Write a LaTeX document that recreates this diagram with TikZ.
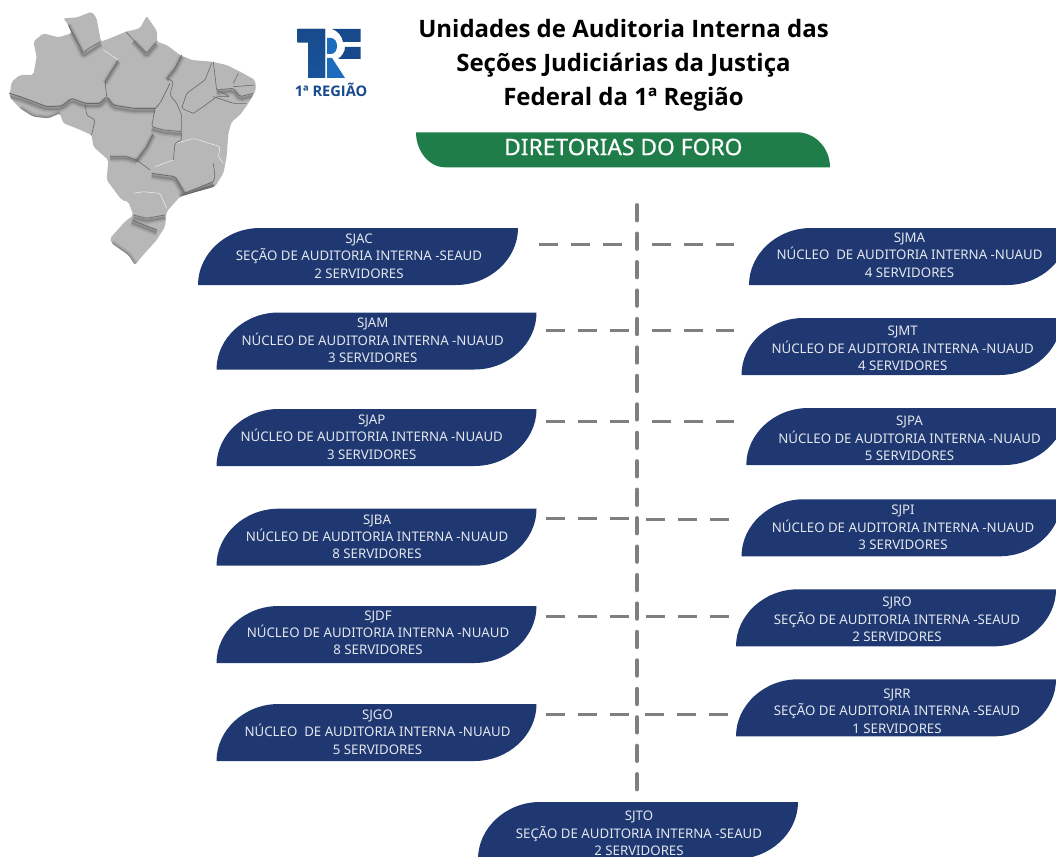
\documentclass[tikz,border=0pt]{standalone}
\usepackage{fontspec}
\setmainfont{Noto Sans}
\newfontfamily\titlefont{Open Sans}
\usetikzlibrary{calc}
\definecolor{navy}{HTML}{1F3871}
\definecolor{paneltxt}{HTML}{E4E7EE}
\definecolor{bannergreen}{HTML}{1F7D49}
\definecolor{dashgray}{HTML}{7F7F7F}
\definecolor{mapgray}{HTML}{B7B7B7}
\definecolor{mapdark}{HTML}{686868}
\definecolor{logodark}{HTML}{174A8C}
\definecolor{logomid}{HTML}{1E6CBE}
\tikzset{
  panelbox/.style={minimum width=320pt,minimum height=57pt,inner sep=0pt,outer sep=0pt},
  paneltext/.style={text=paneltxt,align=center,inner sep=0pt,font=\fontsize{13.25}{17.3}\selectfont},
  hdash/.style={draw=dashgray,line width=2.8pt,dash pattern=on 19pt off 13pt},
  vdash/.style={draw=dashgray,line width=3.8pt,line cap=round,dash pattern=on 15.5pt off 12.95pt},
  titletext/.style={inner sep=0pt,text=black,font=\titlefont\bfseries\fontsize{24}{34}\selectfont,align=center},
  bannertext/.style={inner sep=0pt,text=white,font=\addfontfeature{FakeBold=0.4}\fontsize{22.8}{26}\selectfont},
  logotext/.style={inner sep=0pt,text=logodark,font=\titlefont\bfseries\fontsize{14.6}{16}\selectfont},
  border/.style={draw=mapdark,line width=.6pt,line join=round,rounded corners=1.5pt},
  lightline/.style={draw=white!80!mapgray,line width=.5pt,line join=round,rounded corners=1.5pt},
  shade one/.style={draw=black,opacity=.07,line width=7pt,line join=round,rounded corners=2pt},
  shade two/.style={draw=black,opacity=.09,line width=4pt,line join=round,rounded corners=2pt},
  shade three/.style={draw=black,opacity=.12,line width=2pt,line join=round,rounded corners=2pt},
}
\newcommand{\mapoutline}{(190,55) -- (232,52) -- (275,35) -- (290,55) -- (297,95) -- (303,125)
    -- (330,115) -- (378,95) -- (420,85) -- (440,48) -- (455,70) -- (472,95) -- (470,125)
    -- (500,135) -- (540,165) -- (575,180) -- (635,185) -- (680,195) -- (720,215) -- (765,240)
    -- (768,270) -- (745,310) -- (720,345) -- (695,365) -- (685,400) -- (680,470) -- (670,520)
    -- (645,560) -- (590,575) -- (540,590) -- (500,635) -- (495,680) -- (470,720) -- (425,770)
    -- (405,795) -- (385,765) -- (335,730) -- (330,715) -- (375,665) -- (400,645) -- (385,605)
    -- (365,600) -- (320,540) -- (325,480) -- (280,440) -- (275,405) -- (230,385) -- (190,370)
    -- (180,340) -- (145,355) -- (100,350) -- (60,325) -- (28,290) -- (35,245) -- (60,225)
    -- (100,225) -- (110,170) -- (100,125) -- (130,100) -- (175,112) -- (215,100) -- (205,75) -- cycle}
\newcommand{\softline}[1]{\path[shade one] #1; \path[shade two] #1; \path[shade three] #1;}
% #1 name, #2 left, #3 top, #4 text centre x, #5 text centre y, #6 lines
\newcommand{\panel}[6]{%
  \begin{scope}[shift={(#2,#3)}]
    \fill[navy] (0,57) .. controls (0,26) and (28,0) .. (62,0) -- (320,0)
      .. controls (320,31) and (292,57) .. (258,57) -- cycle;
    \node[panelbox] (#1) at (160,28.5) {};
  \end{scope}
  \node[paneltext] (#1-t) at (#4,#5) {#6};}
% #1 node, #2 y, #3 shorten at the box, #4 shorten at the spine
\newcommand{\leftlink}[4]{\draw[hdash,shorten <=#3pt,shorten >=#4pt] (#1.east |- 0,#2) -- (spinetop |- 0,#2);}
\newcommand{\rightlink}[4]{\draw[hdash,shorten <=#4pt,shorten >=#3pt] (spinetop |- 0,#2) -- (#1.west |- 0,#2);}
\begin{document}
\begin{tikzpicture}[x=1pt,y=-1pt]
\useasboundingbox (0,0) rectangle (1056,856);
\fill[white] (0,0) rectangle (1056,856);

% ---- map of Brazil (traced in 3x coordinates)
\begin{scope}[scale=1/3]
  \fill[mapgray,line join=round,rounded corners=2pt] \mapoutline;
  \begin{scope}
    \clip[rounded corners=2pt] \mapoutline;
    % soft relief below the raised borders
    \softline{(28,290) -- (60,298) -- (100,313) -- (140,328) -- (185,326) -- (215,303) -- (255,318) -- (300,318) -- (320,298) -- (340,323) -- (400,333) -- (465,333)}
    \softline{(205,75) -- (235,135) -- (250,168) -- (303,133)}
    \softline{(400,125) -- (440,168) -- (470,133)}
    \softline{(455,388) -- (490,398) -- (545,403)}
    \softline{(455,528) -- (525,538) -- (555,588) -- (640,553)}
    \softline{(400,653) -- (440,663) -- (495,653)}
    \softline{(395,668) -- (470,698)}
    \softline{(650,278) -- (700,273) -- (720,298) -- (760,288)}
    \softline{(60,325) -- (100,350) -- (145,355) -- (180,340)}
    \softline{(355,185) -- (315,250)}
    \softline{(545,170) -- (525,210) -- (500,240)}
    \softline{(460,405) -- (440,445) -- (410,485)}
    \softline{(330,475) -- (380,475) -- (410,485)}
    \softline{(335,730) -- (385,765) -- (405,795)}
    \softline{(645,560) -- (590,575) -- (540,590)}
  \end{scope}
  % borders
  \path[border,line width=.9pt] (28,280) -- (60,290) -- (100,305) -- (140,320) -- (185,318) -- (215,295)
    -- (255,310) -- (300,310) -- (320,290) -- (340,315) -- (400,325) -- (465,325);
  \path[border] (320,290) -- (315,245) -- (355,180);
  \path[lightline] (355,180) -- (310,150);
  \path[border] (205,75) -- (215,95) -- (235,130) -- (250,160) -- (265,145) -- (303,125);
  \path[border] (378,95) -- (400,120) -- (420,140) -- (440,160) -- (470,125);
  \path[border] (545,165) -- (525,205) -- (500,235) -- (520,245) -- (510,285) -- (530,310);
  \path[border] (510,250) -- (480,310) -- (465,325) -- (455,380) -- (490,390) -- (545,395) -- (545,345) -- (530,310);
  \path[border] (635,190) -- (615,240) -- (560,280) -- (545,325) -- (580,340);
  \path[border] (640,185) -- (650,270) -- (690,290) -- (650,290) -- (610,320) -- (580,340);
  \path[border] (700,250) -- (715,220);
  \path[border] (700,260) -- (765,255);
  \path[border] (650,270) -- (700,265) -- (720,290) -- (760,280);
  \path[border] (640,290) -- (700,310) -- (740,310);
  \path[border] (545,395) -- (545,420) -- (525,430) -- (520,480);
  \path[border] (460,400) -- (440,440) -- (410,480);
  \path[border] (330,470) -- (380,470) -- (410,480) -- (450,510);
  \path[border] (255,310) -- (260,345) -- (285,360) -- (275,405);
  \path[border,line width=.8pt] (455,520) -- (525,530) -- (555,580) -- (640,545);
  \path[lightline] (530,430) -- (580,415) -- (660,440) -- (655,470) -- (670,490);
  \path[lightline] (465,500) -- (520,480);
  \path[border] (640,490) -- (645,530) -- (640,545);
  \path[lightline] (400,580) -- (430,575) -- (480,580) -- (500,625);
  \path[border] (400,645) -- (440,655) -- (495,645);
  \path[border,line width=.8pt] (395,660) -- (470,690);
\end{scope}

% ---- logo
\fill[top color=logodark,bottom color=logodark!70!logomid] (297.5,29) -- (325,29) -- (325,78) -- (308,78) -- (308,42.5) -- (297.5,42.5) -- cycle;
\fill[logodark] (332,29) -- (360.5,29) -- (360.5,42) -- (343,42) .. controls (342,36) and (338,31) .. (332,29) -- cycle;
\fill[logodark] (345,47) -- (360.5,47) -- (360.5,59) -- (338,59) .. controls (342,56) and (345,52) .. (345,47) -- cycle;
\fill[logomid] (327,38) -- (331,38) .. controls (339,38) and (339,54) .. (331,54) -- (327,54) -- cycle;
\fill[logomid] (327,58) -- (332,58) -- (345,78) -- (327,78) -- cycle;
\node[logotext] (logolabel) at (331,89.7) {1ª REGIÃO};

% ---- title and banner
\node[titletext] (title) at (623.5,65.5) {Unidades de Auditoria Interna das\\Seções Judiciárias da Justiça\\Federal da 1ª Região};
\fill[bannergreen] (416,132.3) -- (797,132.3) .. controls (815,132.3) and (830,148) .. (830,167.3)
  -- (445,167.3) .. controls (429,167.3) and (416,151) .. (416,132.3) -- cycle;
\node[bannertext] (banner) at (623.3,147) {DIRETORIAS DO FORO};

% ---- panels
\panel{sjac}{198}{228}{359}{256}{SJAC\\SEÇÃO DE AUDITORIA INTERNA -SEAUD\\2 SERVIDORES}
\panel{sjam}{216.5}{312.5}{372.7}{340.5}{SJAM\\NÚCLEO DE AUDITORIA INTERNA -NUAUD\\3 SERVIDORES}
\panel{sjap}{216.5}{409}{371.7}{437}{SJAP\\NÚCLEO DE AUDITORIA INTERNA -NUAUD\\3 SERVIDORES}
\panel{sjba}{216.5}{508.7}{377}{536.7}{SJBA\\NÚCLEO DE AUDITORIA INTERNA -NUAUD\\8 SERVIDORES}
\panel{sjdf}{216.5}{606}{378}{632.8}{SJDF\\NÚCLEO DE AUDITORIA INTERNA -NUAUD\\8 SERVIDORES}
\panel{sjgo}{216.5}{704}{377.5}{732}{SJGO\\NÚCLEO\ \ DE AUDITORIA INTERNA -NUAUD\\5 SERVIDORES}
\panel{sjma}{749}{228}{909.5}{255}{SJMA\\NÚCLEO\ \ DE AUDITORIA INTERNA -NUAUD\\4 SERVIDORES}
\panel{sjmt}{741.5}{318}{902.7}{348.5}{SJMT\\NÚCLEO DE AUDITORIA INTERNA -NUAUD\\4 SERVIDORES}
\panel{sjpa}{746.3}{408}{909.5}{438.5}{SJPA\\NÚCLEO DE AUDITORIA INTERNA -NUAUD\\5 SERVIDORES}
\panel{sjpi}{741.5}{499.3}{903}{527.5}{SJPI\\NÚCLEO DE AUDITORIA INTERNA -NUAUD\\3 SERVIDORES}
\panel{sjro}{736}{589.3}{897}{619.5}{SJRO\\SEÇÃO DE AUDITORIA INTERNA -SEAUD\\2 SERVIDORES}
\panel{sjrr}{736}{679.3}{897}{711}{SJRR\\SEÇÃO DE AUDITORIA INTERNA -SEAUD\\1 SERVIDORES}
\panel{sjto}{478}{802}{639}{833.5}{SJTO\\SEÇÃO DE AUDITORIA INTERNA -SEAUD\\2 SERVIDORES}

% ---- connectors
\coordinate (spinetop) at (637,205);
\draw[vdash,shorten >=12pt] (spinetop) -- (spinetop |- sjto.north);
\leftlink{sjac}{244.3}{21.3}{15}
\leftlink{sjam}{330.3}{9}{8}
\leftlink{sjap}{421.7}{9}{8}
\leftlink{sjba}{518.3}{9}{8}
\leftlink{sjdf}{616.3}{9}{8}
\leftlink{sjgo}{714.7}{9}{8}
\rightlink{sjma}{244.7}{14.7}{14.7}
\rightlink{sjmt}{330.3}{7.2}{14.7}
\rightlink{sjpa}{421.4}{12}{14.7}
\rightlink{sjpi}{519.3}{12.5}{9}
\rightlink{sjro}{616.3}{7}{9}
\rightlink{sjrr}{714.7}{7.7}{8}
\end{tikzpicture}
\end{document}
